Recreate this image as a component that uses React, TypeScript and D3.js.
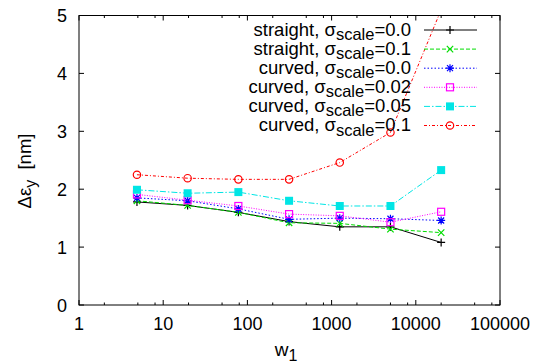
import { useRef, useEffect } from "react";
import * as d3 from "d3";

// w1 values (log axis)
const w1 = [4.88, 19.5, 78.1, 312.5, 1250, 5000, 20000];

const straight_00 = [1.78, 1.72, 1.60, 1.44, 1.35, 1.35, 1.08];
const straight_01 = [1.80, 1.72, 1.60, 1.42, 1.41, 1.31, 1.25];
const curved_00 = [1.85, 1.80, 1.66, 1.48, 1.50, 1.49, 1.46];
const curved_002 = [1.91, 1.81, 1.71, 1.57, 1.54, 1.43, 1.61];
const curved_005 = [1.99, 1.93, 1.95, 1.80, 1.71, 1.71, 2.33];
const curved_01 = [2.25, 2.19, 2.17, 2.17, 2.46, 2.98, 5.1];

const legend_names = ["straight, ", "straight, ", "curved, ", "curved, ", "curved, ", "curved, "];
const legend_values = ["=0.0", "=0.1", "=0.0", "=0.02", "=0.05", "=0.1"];

const x_ticks = [1, 10, 100, 1000, 10000, 100000];
const y_ticks = [0, 1, 2, 3, 4, 5];

const series = [
    { values: straight_00, color: "#000000", dash: null, marker: "plus" },
    { values: straight_01, color: "#00dd00", dash: "4,2", marker: "cross" },
    { values: curved_00, color: "#0000ff", dash: "1.5,2", marker: "star" },
    { values: curved_002, color: "#ff00ff", dash: "1,1.5", marker: "box" },
    { values: curved_005, color: "#00e5e5", dash: "6,2,1.5,2", marker: "fbox" },
    { values: curved_01, color: "#ff0000", dash: "3,2,1,2", marker: "circle" },
];

const W = 541;
const H = 363;
const left = 79, right = 500, top = 15.5, bottom = 305;
const FONT = "'Liberation Sans', Arial, Helvetica, sans-serif";

export default function App() {
    const ref = useRef<SVGSVGElement>(null);

    useEffect(() => {
        const svg = d3.select(ref.current);
        svg.selectAll("*").remove();

        const x = d3.scaleLog().domain([1, 100000]).range([left, right]);
        const y = d3.scaleLinear().domain([0, 5]).range([bottom, top]);

        svg.append("defs").append("clipPath").attr("id", "plotclip")
            .append("rect")
                .attr("x", left).attr("y", top)
                .attr("width", right - left).attr("height", bottom - top);

        const drawMarker = (g: any, kind: string, cx: number, cy: number, color: string) => {
            const s = 4;
            if (kind === "plus") {
                g.append("path").attr("d", `M${cx - s},${cy}H${cx + s}M${cx},${cy - s}V${cy + s}`)
                    .attr("stroke", color).attr("stroke-width", 1.2);
            } else if (kind === "cross") {
                const c = 3.2;
                g.append("path").attr("d", `M${cx - c},${cy - c}L${cx + c},${cy + c}M${cx - c},${cy + c}L${cx + c},${cy - c}`)
                    .attr("stroke", color).attr("stroke-width", 1.2);
            } else if (kind === "star") {
                const c = 3;
                g.append("path").attr("d", `M${cx - s},${cy}H${cx + s}M${cx},${cy - s}V${cy + s}M${cx - c},${cy - c}L${cx + c},${cy + c}M${cx - c},${cy + c}L${cx + c},${cy - c}`)
                    .attr("stroke", color).attr("stroke-width", 1.2);
            } else if (kind === "box") {
                g.append("rect").attr("x", cx - 3.5).attr("y", cy - 3.5).attr("width", 7).attr("height", 7)
                    .attr("fill", "none").attr("stroke", color).attr("stroke-width", 1.2);
            } else if (kind === "fbox") {
                g.append("rect").attr("x", cx - 4).attr("y", cy - 4).attr("width", 8).attr("height", 8)
                    .attr("fill", color);
            } else if (kind === "circle") {
                g.append("circle").attr("cx", cx).attr("cy", cy).attr("r", 3.7)
                    .attr("fill", "none").attr("stroke", color).attr("stroke-width", 1.2);
            }
        };

        // ticks (all four sides, inward)
        const ticks = svg.append("g").attr("stroke", "#000").attr("stroke-width", 1);
        y_ticks.forEach(t => {
            ticks.append("line").attr("x1", left).attr("x2", left + 5).attr("y1", y(t)).attr("y2", y(t));
            ticks.append("line").attr("x1", right).attr("x2", right - 5).attr("y1", y(t)).attr("y2", y(t));
        });
        const minor: number[] = [];
        x_ticks.slice(0, -1).forEach(d => [2, 5, 8].forEach(m => minor.push(d * m)));
        x_ticks.forEach(t => {
            ticks.append("line").attr("x1", x(t)).attr("x2", x(t)).attr("y1", bottom).attr("y2", bottom - 5);
            ticks.append("line").attr("x1", x(t)).attr("x2", x(t)).attr("y1", top).attr("y2", top + 5);
        });
        minor.forEach(t => {
            ticks.append("line").attr("x1", x(t)).attr("x2", x(t)).attr("y1", bottom).attr("y2", bottom - 2.5);
            ticks.append("line").attr("x1", x(t)).attr("x2", x(t)).attr("y1", top).attr("y2", top + 2.5);
        });

        // tick labels
        const labels = svg.append("g").attr("font-family", FONT).attr("font-size", 18).attr("fill", "#000");
        y_ticks.forEach(t => {
            labels.append("text").attr("x", 67).attr("y", y(t) + 6.5).attr("text-anchor", "end").text(t);
        });
        x_ticks.forEach(t => {
            labels.append("text").attr("x", x(t)).attr("y", 330).attr("text-anchor", "middle").text(t);
        });

        // axis titles
        const xt = svg.append("text").attr("font-family", FONT).attr("font-size", 19)
            .attr("x", 286).attr("y", 356).attr("text-anchor", "middle");
        xt.append("tspan").text("w");
        xt.append("tspan").attr("dy", 5).attr("font-size", 16).text("1");

        const yt = svg.append("text").attr("font-family", FONT).attr("font-size", 18.5)
            .attr("transform", "translate(31,171) rotate(-90)").attr("text-anchor", "middle");
        yt.append("tspan").text("\u0394\u03b5");
        yt.append("tspan").attr("dy", 5).attr("font-size", 16).text("y");
        yt.append("tspan").attr("dy", -5).text("  [nm]").attr("xml:space", "preserve");

        // data
        const line = d3.line<number>()
            .x((_, i) => x(w1[i]))
            .y(d => y(d));
        const plot = svg.append("g").attr("clip-path", "url(#plotclip)");
        series.forEach(s => {
            const p = plot.append("path")
                .attr("d", line(s.values))
                .attr("fill", "none")
                .attr("stroke", s.color)
                .attr("stroke-width", 1);
            if (s.dash) p.attr("stroke-dasharray", s.dash);
            s.values.forEach((v, i) => drawMarker(plot, s.marker, x(w1[i]), y(v), s.color));
        });

        // legend
        const leg = svg.append("g");
        series.forEach((s, i) => {
            const ly = 30 + i * 19.1;
            const t = leg.append("text").attr("font-family", FONT).attr("font-size", 18.5)
                .attr("x", 411).attr("y", ly + 5.5).attr("text-anchor", "end");
            t.append("tspan").text(legend_names[i] + "\u03c3");
            t.append("tspan").attr("dy", 4.5).attr("font-size", 16.5).text("scale");
            t.append("tspan").attr("dy", -4.5).text(legend_values[i]);
            const p = leg.append("line").attr("x1", 424).attr("x2", 477).attr("y1", ly).attr("y2", ly)
                .attr("stroke", s.color).attr("stroke-width", 1);
            if (s.dash) p.attr("stroke-dasharray", s.dash);
            drawMarker(leg, s.marker, 450, ly, s.color);
        });

        // frame
        svg.append("rect").attr("x", left).attr("y", top).attr("width", right - left).attr("height", bottom - top)
            .attr("fill", "none").attr("stroke", "#000").attr("stroke-width", 1);
    }, [ref]);

    return (
        <svg ref={ref} width={W} height={H} style={{ position: "absolute", left: 0, top: 0, background: "#fff" }} />
    );
}
